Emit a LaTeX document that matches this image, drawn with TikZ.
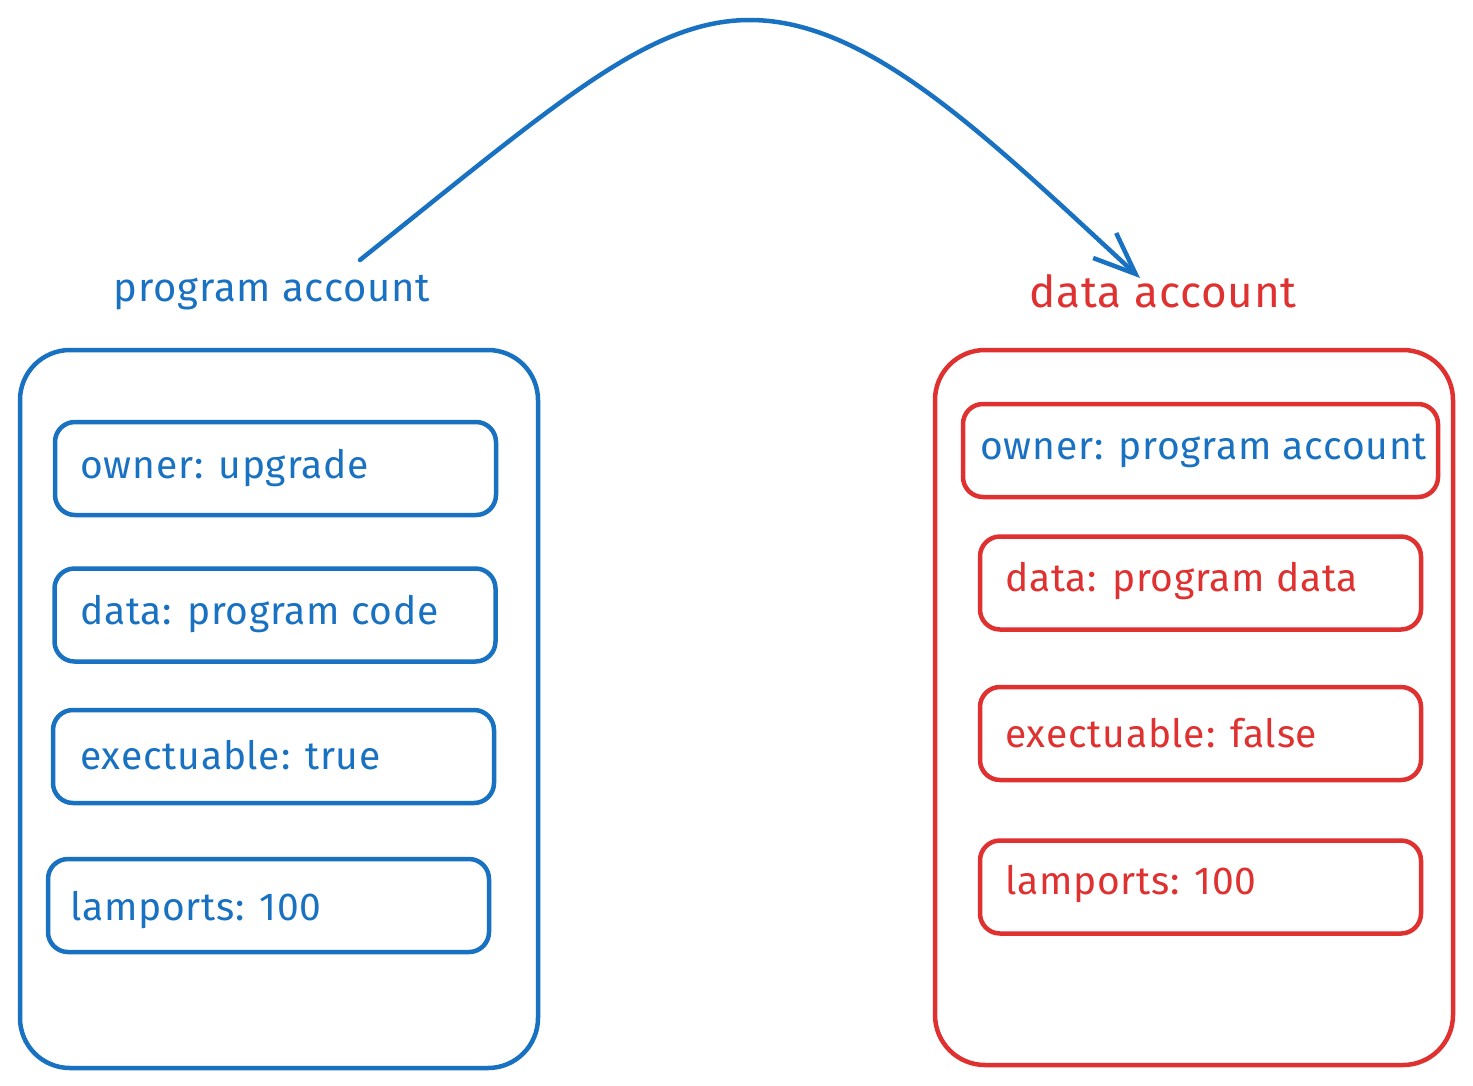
\documentclass[tikz,border=0pt]{standalone}
\usepackage{fontspec}
\setmainfont{Fira Sans}[LetterSpace=2]
\usetikzlibrary{arrows.meta}
\definecolor{exblue}{HTML}{1971C2}
\definecolor{exred}{HTML}{E03131}
\tikzset{
  outerbox/.style={draw, line width=4.5pt, rounded corners=50pt, inner sep=0pt},
  innerbox/.style={draw, line width=4.5pt, rounded corners=20pt, inner sep=0pt, minimum width=441pt, minimum height=93pt},
  label/.style={inner sep=0pt, font=\fontsize{40}{46}\selectfont},
  itext/.style={inner sep=0pt, anchor=west, font=\fontsize{39}{46}\selectfont},
}
\begin{document}
\begin{tikzpicture}[x=1pt,y=-1pt]
\useasboundingbox (0,0) rectangle (1473,1085);
% left account
\node[outerbox, exblue, minimum width=518pt, minimum height=718pt] (L) at (279,709) {};
\node[label, text=exblue] (Llab) at (272,293) {program account};
\node[innerbox, exblue] (L1) at (275.5,468.5) {};
\node[innerbox, exblue] (L2) at (275,615) {};
\node[innerbox, exblue] (L3) at (273.5,756.5) {};
\node[innerbox, exblue] (L4) at (268.5,905.5) {};
\node[itext, text=exblue] (L1t) at (80,468) {owner: upgrade};
\node[itext, text=exblue] (L2t) at (80,614) {data: program code};
\node[itext, text=exblue] (L3t) at (80,755) {exectuable: true};
\node[itext, text=exblue] (L4t) at (70,910) {lamports: 100};
% right account
\node[outerbox, exred, minimum width=518pt, minimum height=715pt] (R) at (1194,707.5) {};
\node[label, text=exred, font=\fontsize{44}{50}\selectfont] (Rlab) at (1163,291) {data account};
\node[innerbox, exred, minimum width=475pt] (R1) at (1200.5,450.5) {};
\node[innerbox, exred] (R2) at (1200.5,583) {};
\node[innerbox, exred] (R3) at (1200.5,733.5) {};
\node[innerbox, exred] (R4) at (1200.5,887) {};
\node[itext, text=exblue] (R1t) at (980,451) {owner: program account};
\node[itext, text=exred] (R2t) at (1005,581) {data: program data};
\node[itext, text=exred] (R3t) at (1005,733) {exectuable: false};
\node[itext, text=exred] (R4t) at (1005,884) {lamports: 100};
% arrow
\coordinate (A0) at (360,260);
\coordinate (Apeak) at (750,20);
\coordinate (A1) at (1140,278);
\draw[exblue, line width=4.5pt, line cap=round, -{Straight Barb[length=42pt,width=34pt,line width=4.5pt]}]
  (A0) .. controls (560,100) and (650,20) .. (Apeak)
       .. controls (870,20) and (990,140) .. (A1);
\end{tikzpicture}
\end{document}
